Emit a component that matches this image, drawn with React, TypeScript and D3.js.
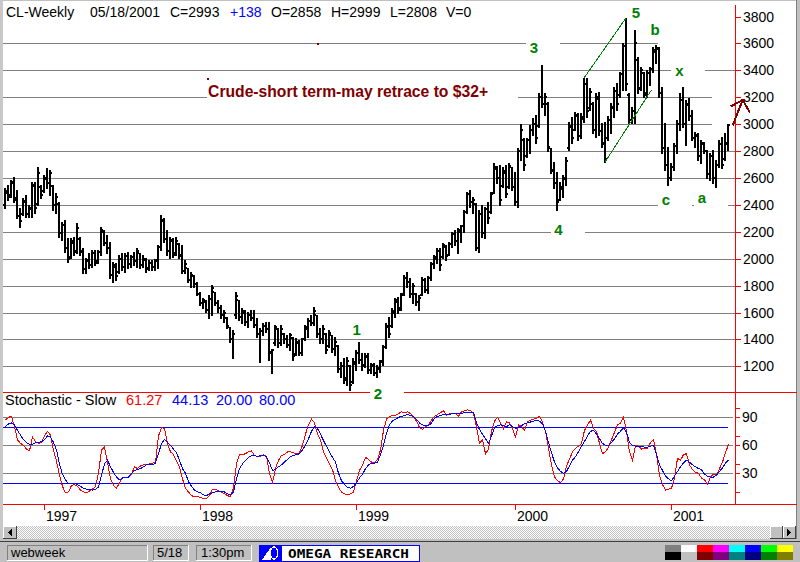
import React from 'react';
import * as d3 from 'd3';

// Weekly crude oil bars, 1996-10-04 .. 2001-05-18
const highs = [
  2525, 2548, 2585, 2607, 2511, 2377, 2451, 2474, 2400, 2570,
  2570, 2681, 2548, 2622, 2674, 2660, 2548, 2488, 2422, 2273,
  2288, 2154, 2154, 2162, 2266, 2162, 2080, 2006, 2043, 2065,
  2065, 2065, 2236, 2214, 2176, 2124, 1976, 1968, 2028, 2043,
  2043, 2050, 2028, 2050, 2080, 2043, 2028, 2006, 1990, 1990,
  2000, 2102, 2325, 2303, 2214, 2162, 2154, 2162, 2117, 2102,
  1990, 1931, 1901, 1879, 1827, 1752, 1708, 1693, 1730, 1805,
  1752, 1693, 1656, 1619, 1566, 1492, 1470, 1752, 1693, 1634,
  1619, 1604, 1619, 1619, 1559, 1485, 1522, 1529, 1530, 1330,
  1507, 1485, 1507, 1448, 1433, 1448, 1418, 1410, 1396, 1410,
  1507, 1559, 1581, 1641, 1581, 1485, 1507, 1448, 1470, 1433,
  1418, 1358, 1232, 1262, 1269, 1210, 1262, 1321, 1381, 1299,
  1299, 1299, 1225, 1225, 1210, 1247, 1358, 1522, 1566, 1634,
  1708, 1715, 1745, 1879, 1901, 1857, 1819, 1745, 1730, 1864,
  1857, 1871, 1976, 2028, 2080, 2080, 2117, 2102, 2124, 2199,
  2214, 2229, 2251, 2362, 2496, 2511, 2459, 2414, 2362, 2400,
  2385, 2422, 2496, 2711, 2690, 2696, 2681, 2696, 2711, 2681,
  2644, 2823, 3001, 2897, 2897, 2994, 3046, 3068, 3231, 3440,
  3231, 3165, 2823, 2718, 2644, 2570, 2622, 2756, 3016, 3053,
  3090, 3083, 3083, 3343, 3343, 3269, 3165, 3231, 3239, 3009,
  3016, 3060, 3157, 3276, 3306, 3388, 3603, 3790, 3231, 3128,
  3700, 3500, 3425, 3388, 3403, 3425, 3574, 3589, 3574, 3277,
  3009, 2830, 2711, 2860, 3031, 3231, 3276, 3180, 3195, 3106,
  2942, 2934, 2883, 2868, 2808, 2786, 2808, 2734, 2883, 2905,
  2934, 2999,
];
const lows = [
  2376, 2436, 2459, 2422, 2303, 2236, 2325, 2310, 2310, 2310,
  2340, 2400, 2451, 2496, 2526, 2474, 2362, 2340, 2162, 2139,
  2050, 1976, 2006, 2028, 2043, 2028, 1894, 1894, 1931, 1938,
  1953, 1968, 2028, 2102, 2043, 1857, 1827, 1842, 1894, 1916,
  1901, 1931, 1938, 1953, 1938, 1931, 1938, 1901, 1916, 1916,
  1916, 1931, 2065, 2124, 2028, 2006, 2013, 2028, 2006, 1894,
  1894, 1827, 1790, 1790, 1730, 1656, 1634, 1604, 1559, 1581,
  1656, 1604, 1559, 1529, 1485, 1381, 1262, 1559, 1544, 1522,
  1507, 1492, 1544, 1492, 1418, 1232, 1433, 1455, 1250, 1150,
  1358, 1343, 1358, 1373, 1343, 1321, 1247, 1284, 1284, 1284,
  1396, 1418, 1507, 1507, 1418, 1373, 1373, 1299, 1343, 1306,
  1284, 1158, 1120, 1076, 1061, 1024, 1076, 1172, 1225, 1172,
  1195, 1150, 1150, 1135, 1120, 1158, 1210, 1336, 1418, 1492,
  1566, 1596, 1619, 1730, 1790, 1715, 1671, 1656, 1619, 1730,
  1752, 1745, 1842, 1931, 1968, 1916, 2006, 1990, 2028, 2087,
  2102, 2043, 2124, 2199, 2340, 2385, 2340, 2065, 2050, 2162,
  2154, 2266, 2340, 2488, 2560, 2400, 2533, 2459, 2525, 2511,
  2400, 2385, 2734, 2660, 2756, 2785, 2920, 2860, 2979, 3128,
  3068, 2800, 2637, 2525, 2362, 2437, 2459, 2548, 2808, 2860,
  2957, 2883, 2897, 3016, 3053, 3106, 2934, 2905, 2920, 2830,
  2718, 2880, 2934, 3053, 3106, 3202, 3255, 3255, 3009, 3009,
  3009, 3231, 3255, 3202, 3202, 3291, 3388, 3455, 3202, 2786,
  2660, 2548, 2585, 2660, 2786, 2957, 2979, 2845, 3031, 2883,
  2830, 2734, 2711, 2786, 2600, 2585, 2562, 2533, 2681, 2674,
  2734, 2808,
];
const opens = [
  2400, 2490, 2470, 2560, 2450, 2320, 2330, 2420, 2330, 2370,
  2540, 2410, 2530, 2500, 2590, 2560, 2540, 2400, 2410, 2190,
  2250, 2080, 2010, 2120, 2060, 2150, 2060, 1920, 1980, 1950,
  2040, 1980, 2050, 2200, 2120, 2080, 1880, 1940, 1900, 2000,
  1940, 2020, 1960, 2010, 1980, 2040, 1950, 1990, 1930, 1970,
  1940, 1980, 2090, 2280, 2150, 2060, 2130, 2040, 2110, 2030,
  1910, 1930, 1840, 1870, 1810, 1740, 1670, 1680, 1620, 1700,
  1750, 1670, 1630, 1580, 1560, 1490, 1400, 1580, 1690, 1570,
  1600, 1530, 1580, 1560, 1510, 1440, 1460, 1500, 1480, 1300,
  1370, 1480, 1370, 1440, 1400, 1360, 1410, 1290, 1370, 1300,
  1400, 1480, 1540, 1520, 1580, 1440, 1400, 1440, 1350, 1430,
  1330, 1350, 1180, 1200, 1110, 1200, 1080, 1220, 1300, 1250,
  1210, 1270, 1170, 1200, 1150, 1180, 1230, 1340, 1490, 1500,
  1600, 1680, 1630, 1740, 1860, 1830, 1740, 1740, 1680, 1730,
  1840, 1770, 1860, 1960, 2000, 2060, 2010, 2090, 2030, 2110,
  2180, 2130, 2200, 2240, 2350, 2480, 2420, 2410, 2080, 2330,
  2190, 2370, 2350, 2490, 2670, 2600, 2540, 2640, 2530, 2680,
  2530, 2420, 2800, 2880, 2760, 2880, 2960, 3000, 2990, 3200,
  3150, 3150, 2820, 2650, 2560, 2440, 2520, 2590, 2820, 2980,
  2960, 3060, 2910, 3040, 3300, 3120, 3150, 2960, 3190, 2950,
  2860, 2900, 3030, 3120, 3250, 3220, 3370, 3580, 3220, 3030,
  3100, 3480, 3270, 3380, 3230, 3380, 3410, 3540, 3560, 3230,
  2820, 2700, 2600, 2680, 2840, 3000, 3180, 3000, 3140, 3060,
  2900, 2910, 2760, 2850, 2800, 2630, 2760, 2600, 2700, 2850,
  2740, 2858,
];
const closes = [
  2500, 2460, 2570, 2440, 2320, 2280, 2430, 2330, 2380, 2550,
  2380, 2640, 2470, 2600, 2560, 2640, 2400, 2460, 2190, 2250,
  2080, 2000, 2130, 2050, 2230, 2050, 1920, 1990, 1950, 2040,
  1970, 2050, 2210, 2120, 2080, 1880, 1950, 1870, 2000, 1940,
  2020, 1960, 2010, 1980, 2060, 1950, 2000, 1920, 1970, 1940,
  1990, 2090, 2290, 2150, 2060, 2140, 2030, 2130, 2020, 1910,
  1960, 1840, 1880, 1810, 1740, 1670, 1690, 1620, 1700, 1780,
  1670, 1630, 1580, 1600, 1500, 1400, 1440, 1720, 1570, 1610,
  1530, 1580, 1560, 1510, 1440, 1460, 1500, 1480, 1310, 1320,
  1490, 1370, 1480, 1400, 1360, 1430, 1280, 1380, 1300, 1400,
  1490, 1540, 1520, 1610, 1440, 1400, 1480, 1320, 1450, 1330,
  1380, 1180, 1200, 1100, 1240, 1060, 1230, 1300, 1250, 1200,
  1280, 1170, 1210, 1150, 1190, 1240, 1340, 1500, 1440, 1610,
  1690, 1620, 1730, 1860, 1830, 1740, 1800, 1680, 1710, 1840,
  1770, 1860, 1960, 2010, 2060, 1950, 2100, 2020, 2110, 2180,
  2130, 2210, 2240, 2350, 2480, 2420, 2440, 2080, 2330, 2190,
  2370, 2300, 2480, 2680, 2600, 2440, 2650, 2480, 2690, 2530,
  2420, 2800, 2960, 2700, 2880, 2960, 3000, 2900, 3200, 3150,
  3200, 2830, 2660, 2560, 2420, 2530, 2600, 2730, 2990, 2900,
  3070, 2910, 3050, 3300, 3100, 3240, 2960, 3200, 2950, 2850,
  2740, 3030, 3130, 3250, 3150, 3370, 3580, 3300, 3030, 3100,
  3600, 3260, 3400, 3220, 3380, 3410, 3550, 3570, 3230, 2820,
  2700, 2600, 2680, 2840, 3000, 3180, 3000, 3150, 3060, 2900,
  2920, 2760, 2860, 2800, 2630, 2760, 2600, 2700, 2850, 2700,
  2855, 2993,
];

// Stochastic - Slow: %K (red) and %D (blue)
const slowK = [
  87, 90, 91, 80, 66, 62, 60, 56, 54, 69,
  64, 62, 63, 70, 75, 71, 55, 43, 28, 16,
  9, 10, 17, 18, 16, 12, 10, 9, 11, 13,
  16, 30, 55, 58, 42, 24, 17, 14, 20, 26,
  25, 26, 29, 37, 35, 38, 39, 39, 40, 41,
  42, 70, 79, 78, 62, 53, 50, 43, 37, 24,
  14, 10, 6, 5, 5, 4, 3, 3, 6, 13,
  13, 11, 10, 8, 6, 5, 14, 40, 50, 50,
  51, 53, 54, 49, 48, 48, 50, 48, 30, 20,
  35, 44, 49, 50, 53, 53, 52, 51, 52, 60,
  72, 82, 88, 84, 72, 66, 53, 46, 40, 34,
  22, 15, 10, 8, 7, 8, 10, 22, 33, 39,
  47, 45, 42, 41, 45, 55, 76, 88, 91, 92,
  92, 94, 96, 95, 96, 94, 90, 86, 79, 77,
  80, 82, 87, 91, 93, 95, 97, 92, 94, 94,
  94, 91, 96, 97, 98, 97, 94, 80, 62, 66,
  51, 56, 75, 86, 90, 84, 78, 85, 84, 78,
  69, 82, 80, 76, 85, 87, 88, 89, 91, 85,
  75, 57, 39, 26, 22, 20, 24, 38, 45, 53,
  57, 59, 62, 76, 82, 87, 78, 75, 62, 51,
  53, 58, 66, 74, 82, 84, 90, 75, 53, 44,
  60, 59, 56, 57, 57, 63, 66, 50, 28, 18,
  12, 13, 14, 25, 46, 44, 50, 51, 39, 34,
  31, 30, 25, 23, 18, 26, 29, 28, 35, 42,
  52, 61.27,
];
const slowD = [
  80, 83, 84, 82, 76, 71, 66, 63, 61, 61,
  63, 63, 64, 66, 70, 69, 63, 55, 40, 29,
  23, 19, 19, 19, 18, 16, 14, 13, 13, 12,
  13, 15, 28, 40, 44, 37, 31, 26, 23, 25,
  25, 26, 30, 33, 34, 35, 37, 39, 39, 39,
  41, 51, 62, 66, 63, 60, 56, 52, 44, 35,
  30, 21, 16, 12, 10, 9, 7, 6, 8, 9,
  10, 11, 11, 10, 8, 7, 10, 24, 35, 40,
  44, 47, 49, 49, 48, 49, 49, 48, 41, 33,
  34, 37, 39, 42, 45, 48, 49, 50, 51, 55,
  60, 67, 75, 80, 78, 72, 65, 59, 53, 47,
  42, 30, 22, 18, 15, 14, 16, 20, 25, 29,
  35, 39, 41, 41, 42, 50, 60, 73, 82, 86,
  88, 90, 91, 92, 93, 92, 91, 88, 84, 82,
  81, 81, 84, 89, 91, 92, 93, 93, 93, 94,
  94, 94, 94, 95, 95, 95, 95, 84, 77, 72,
  67, 62, 70, 79, 81, 82, 81, 80, 82, 80,
  78, 79, 81, 83, 84, 85, 86, 87, 86, 83,
  75, 63, 52, 42, 36, 32, 30, 32, 38, 44,
  48, 53, 59, 64, 70, 75, 76, 72, 67, 62,
  60, 60, 63, 67, 72, 75, 79, 74, 63, 60,
  59, 59, 59, 58, 58, 59, 60, 50, 39, 33,
  27, 24, 22, 27, 32, 37, 41, 44, 42, 39,
  37, 35, 34, 29, 27, 26, 26, 28, 32, 36,
  41, 44.13,
];

const priceTicks = [1200, 1400, 1600, 1800, 2000, 2200, 2400, 2600, 2800, 3000, 3200, 3400, 3600, 3800];
const stochLabelTicks = [30, 60, 90];
const stochMinorTicks = [10, 40, 70, 100];
const stochBands = [20, 80];

// annotations, in (bar index, price)
const waveLabels = [
  { t: '1', k: 117.2, p: 1433 },
  { t: '2', k: 124.3, p: 957 },
  { t: '3', k: 176.3, p: 3530 },
  { t: '4', k: 184.5, p: 2176 },
  { t: '5', k: 210.3, p: 3786 },
  { t: 'b', k: 216.7, p: 3663 },
  { t: 'x', k: 224.8, p: 3358 },
  { t: 'c', k: 220.3, p: 2399 },
  { t: 'a', k: 232.3, p: 2414 },
];
const note = { t: 'Crude-short term-may retrace to $32+', k: 67.7, p: 3200 };
const channel = [
  [{ k: 193, p: 3343 }, { k: 207, p: 3790 }],
  [{ k: 200, p: 2718 }, { k: 215.5, p: 3255 }],
];
const arrowTail = { k: 242.7, p: 2998 };
const arrowHead = { k: 245.9, p: 3180 };
const arrowBarbs = [{ k: 242.2, p: 3135 }, { k: 248.1, p: 3094 }];
const dots = [{ k: 104, p: 3604 }, { k: 67.3, p: 3344 }];
const blankBoxes = [
  { k0: 217.7, k1: 243.3, p0: 3565, p1: 3635 },
  { k0: 235.7, k1: 243.3, p0: 2985, p1: 3222 },
];

const paletteTop = ['#808080', '#ffffff', '#ff0000', '#ff00ff', '#00ffff', '#0000ff', '#00ff00', '#ffff00'];
const paletteBottom = ['#000000', '#c0c0c0', '#800000', '#800080', '#008080', '#000080', '#008000', '#808000'];

const FONT = '"Liberation Sans", Arial, sans-serif';
const RED = '#ff0000';
const BLUE = '#0000ff';
const GRID = '#808080';
const GREEN = '#008000';
const MAROON = '#800000';

const n = highs.length;
const dates = highs.map((_, i) => new Date(1996, 9, 4 + 7 * i));

const x = d3.scaleTime().domain([dates[0], dates[n - 1]]).range([5, 728]);
const xi = d3.scaleLinear().domain([0, n - 1]).range([5, 728]);
const yP = d3.scaleLinear().domain([1200, 3800]).range([366.3, 16.6]);
const yS = d3.scaleLinear().domain([0, 100]).range([501.3, 408]);

const yearStarts = dates.filter((d, i) => i > 0 && d.getFullYear() !== dates[i - 1].getFullYear());

const px = (v: number) => Math.round(v) + 0.5;

function Sunken({ x0, y0, w, h }: { x0: number; y0: number; w: number; h: number }) {
  return (
    <g>
      <rect x={x0} y={y0} width={w} height={h} fill="#c0c0c0" />
      <line x1={x0} x2={x0 + w} y1={y0 + 0.5} y2={y0 + 0.5} stroke="#808080" />
      <line x1={x0 + 0.5} x2={x0 + 0.5} y1={y0} y2={y0 + h} stroke="#808080" />
      <line x1={x0} x2={x0 + w} y1={y0 + h - 0.5} y2={y0 + h - 0.5} stroke="#ffffff" />
      <line x1={x0 + w - 0.5} x2={x0 + w - 0.5} y1={y0} y2={y0 + h} stroke="#ffffff" />
    </g>
  );
}

function Raised({ x0, y0, w, h }: { x0: number; y0: number; w: number; h: number }) {
  return (
    <g>
      <rect x={x0} y={y0} width={w} height={h} fill="#c0c0c0" />
      <line x1={x0} x2={x0 + w} y1={y0 + 0.5} y2={y0 + 0.5} stroke="#ffffff" />
      <line x1={x0 + 0.5} x2={x0 + 0.5} y1={y0} y2={y0 + h} stroke="#ffffff" />
      <line x1={x0} x2={x0 + w} y1={y0 + h - 0.5} y2={y0 + h - 0.5} stroke="#404040" />
      <line x1={x0 + w - 0.5} x2={x0 + w - 0.5} y1={y0} y2={y0 + h} stroke="#404040" />
    </g>
  );
}

export default function App() {
  const last = n - 1;
  const change = closes[last] - closes[last - 1];
  const header = [
    { t: 'CL-Weekly', x: 6, c: '#000' },
    { t: d3.timeFormat('%m/%d/%Y')(dates[last]), x: 90, c: '#000' },
    { t: `C=${closes[last]}`, x: 170, c: '#000' },
    { t: `${change >= 0 ? '+' : ''}${change}`, x: 230, c: BLUE },
    { t: `O=${opens[last]}`, x: 271, c: '#000' },
    { t: `H=${highs[last]}`, x: 331, c: '#000' },
    { t: `L=${lows[last]}`, x: 390, c: '#000' },
    { t: 'V=0', x: 446, c: '#000' },
  ];
  const stochTitle = [
    { t: 'Stochastic - Slow', x: 5, c: '#000' },
    { t: slowK[last].toFixed(2), x: 126, c: RED },
    { t: slowD[last].toFixed(2), x: 172, c: BLUE },
    { t: stochBands[0].toFixed(2), x: 216, c: BLUE },
    { t: stochBands[1].toFixed(2), x: 259, c: BLUE },
  ];

  const lineK = d3.line<number>().x((_, i) => px(x(dates[i]))).y((v) => yS(v))(slowK) || '';
  const lineD = d3.line<number>().x((_, i) => px(x(dates[i]))).y((v) => yS(v))(slowD) || '';

  return (
    <div style={{ position: 'fixed', left: 0, top: 0, width: 800, height: 562 }}>
      <svg width={800} height={562} style={{ display: 'block' }} fontFamily={FONT} shapeRendering="crispEdges">
        <defs>
          <pattern id="hatch" width="2" height="2" patternUnits="userSpaceOnUse">
            <rect width="2" height="2" fill="#ffffff" />
            <rect x="0" y="0" width="1" height="1" fill="#c0c0c0" />
            <rect x="1" y="1" width="1" height="1" fill="#c0c0c0" />
          </pattern>
        </defs>

        {/* window */}
        <rect x={0} y={0} width={800} height={562} fill="#ffffff" />
        <rect x={0} y={0} width={800} height={1} fill="#c0c0c0" />
        <rect x={0} y={0} width={3} height={541} fill="#c8c8c8" />
        <rect x={796} y={0} width={4} height={541} fill="#c0c0c0" />
        <line x1={796.5} x2={796.5} y1={0} y2={541} stroke="#808080" />

        {/* header */}
        <text y={17} fontSize={14}>
          {header.map((h) => (
            <tspan key={h.x} x={h.x} fill={h.c}>{h.t}</tspan>
          ))}
        </text>

        {/* price grid */}
        {priceTicks.filter((p) => p < 3800).map((p) => (
          <line key={p} x1={3} x2={735} y1={px(yP(p))} y2={px(yP(p))} stroke={GRID} />
        ))}
        <line x1={3} x2={797} y1={392.5} y2={392.5} stroke={RED} />
        <line x1={735.5} x2={735.5} y1={5} y2={392} stroke={RED} />
        {priceTicks.map((p) => (
          <g key={p}>
            <line x1={736} x2={741} y1={px(yP(p))} y2={px(yP(p))} stroke={RED} />
            <text x={743} y={Math.round(yP(p)) + 5} fontSize={14} fill="#000">{p}</text>
          </g>
        ))}

        {/* label backgrounds that break the grid */}
        {blankBoxes.map((b, i) => (
          <rect key={i} x={xi(b.k0)} y={yP(b.p1)} width={xi(b.k1) - xi(b.k0)} height={yP(b.p0) - yP(b.p1)} fill="#ffffff" />
        ))}
        {waveLabels.map((l) => (
          <rect key={l.t} x={xi(l.k) - 8} y={yP(l.p) - 12} width={34} height={15} fill="#ffffff" />
        ))}
        <rect x={xi(note.k) - 1} y={yP(note.p) - 18} width={311} height={21} fill="#ffffff" />

        {/* OHLC bars */}
        <g fill="#000">
          {dates.map((d, i) => {
            const X = Math.round(x(d));
            const yh = Math.round(yP(highs[i]));
            const yl = Math.round(yP(lows[i]));
            return (
              <g key={i}>
                <rect x={X - 1} y={yh} width={2} height={yl - yh + 1} />
                <rect x={X - 2} y={Math.round(yP(opens[i])) - 1} width={1} height={2} />
                <rect x={X + 1} y={Math.round(yP(closes[i])) - 1} width={1} height={2} />
              </g>
            );
          })}
        </g>

        {/* channel */}
        {channel.map((c, i) => (
          <line key={i} x1={xi(c[0].k)} y1={yP(c[0].p)} x2={xi(c[1].k)} y2={yP(c[1].p)} stroke={GREEN} strokeWidth={1} />
        ))}

        {/* wave labels */}
        {waveLabels.map((l) => (
          <text key={l.t} x={xi(l.k)} y={yP(l.p)} fontSize={15} fontWeight="bold" fill={GREEN} textAnchor="middle">{l.t}</text>
        ))}
        <text x={xi(note.k)} y={yP(note.p)} fontSize={17} fontWeight="bold" fill={MAROON} textLength={280} lengthAdjust="spacingAndGlyphs">{note.t}</text>
        {dots.map((d, i) => (
          <rect key={i} x={Math.round(xi(d.k))} y={Math.round(yP(d.p))} width={2} height={2} fill={MAROON} />
        ))}

        {/* arrow */}
        <g stroke={MAROON} strokeWidth={2} strokeLinecap="square">
          <line x1={xi(arrowTail.k)} y1={yP(arrowTail.p)} x2={xi(arrowHead.k)} y2={yP(arrowHead.p)} />
          {arrowBarbs.map((b, i) => (
            <line key={i} x1={xi(arrowHead.k)} y1={yP(arrowHead.p)} x2={xi(b.k)} y2={yP(b.p)} />
          ))}
        </g>

        {/* stochastic pane */}
        <text y={405} fontSize={14.5}>
          {stochTitle.map((s) => (
            <tspan key={s.x} x={s.x} fill={s.c}>{s.t}</tspan>
          ))}
        </text>
        {stochLabelTicks.map((v) => (
          <line key={v} x1={3} x2={733} y1={px(yS(v))} y2={px(yS(v))} stroke={GRID} />
        ))}
        {stochBands.map((v) => (
          <line key={v} x1={3} x2={728} y1={px(yS(v))} y2={px(yS(v))} stroke={BLUE} />
        ))}
        <line x1={735.5} x2={735.5} y1={392} y2={505} stroke={RED} />
        {stochLabelTicks.concat(stochMinorTicks).map((v) => (
          <line key={v} x1={736} x2={740} y1={px(yS(v))} y2={px(yS(v))} stroke={RED} />
        ))}
        {stochLabelTicks.map((v) => (
          <text key={v} x={742} y={Math.round(yS(v)) + 5} fontSize={14} fill="#000">{v}</text>
        ))}
        <path d={lineK} fill="none" stroke={RED} strokeWidth={1} />
        <path d={lineD} fill="none" stroke={BLUE} strokeWidth={1} />

        {/* date axis */}
        <line x1={3} x2={797} y1={504.5} y2={504.5} stroke={RED} />
        {yearStarts.map((d) => {
          const X = Math.round(x(d));
          return (
            <g key={d.getFullYear()}>
              <line x1={X + 0.5} x2={X + 0.5} y1={505} y2={510} stroke={RED} />
              <text x={X + 2} y={521} fontSize={14} fill="#000">{d.getFullYear()}</text>
            </g>
          );
        })}

        {/* scrollbar */}
        <rect x={3} y={526} width={793} height={13} fill="url(#hatch)" />
        <Raised x0={3} y0={526} w={14} h={13} />
        <path d="M8,532.5 L12,529 L12,536 Z" fill="#000" />
        <Raised x0={770} y0={526} w={13} h={13} />
        <Raised x0={783} y0={526} w={13} h={13} />
        <path d="M791,532.5 L787,529 L787,536 Z" fill="#000" />
        <rect x={0} y={539} width={800} height={3} fill="#c0c0c0" />
        <rect x={0} y={541} width={800} height={1} fill="#404040" />

        {/* status bar */}
        <rect x={0} y={542} width={800} height={20} fill="#c0c0c0" />
        <Sunken x0={7} y0={545} w={141} h={16} />
        <Sunken x0={153} y0={545} w={36} h={16} />
        <Sunken x0={196} y0={545} w={56} h={16} />
        <text x={11} y={557} fontSize={13} fill="#000">webweek</text>
        <text x={157} y={557} fontSize={13} fill="#000">5/18</text>
        <text x={201} y={557} fontSize={13} fill="#000">1:30pm</text>

        <rect x={259} y={545} width={160} height={16} fill="#ffffff" stroke={BLUE} />
        <rect x={259} y={545} width={23} height={16} fill={BLUE} />
        <path d="M262,560 L271,547 L271,560 Z" fill="#ffffff" />
        <ellipse cx={274} cy={553} rx={3.5} ry={6} fill="none" stroke="#ffffff" strokeWidth={1.5} />
        <text x={288} y={558} fontSize={12} fontWeight="bold" fontFamily='"DejaVu Sans Mono", monospace' fill="#000" textLength={121} lengthAdjust="spacingAndGlyphs">OMEGA RESEARCH</text>

        {paletteTop.map((c, i) => (
          <rect key={'t' + i} x={665 + i * 16} y={545} width={16} height={7} fill={c} />
        ))}
        {paletteBottom.map((c, i) => (
          <rect key={'b' + i} x={665 + i * 16} y={552} width={16} height={8} fill={c} />
        ))}
      </svg>
    </div>
  );
}
